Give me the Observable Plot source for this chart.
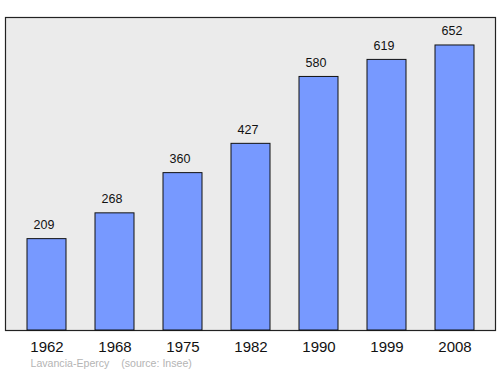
<!DOCTYPE html>
<html>
<head>
<meta charset="utf-8">
<script src="https://cdn.jsdelivr.net/npm/d3@7"></script>
<script src="https://cdn.jsdelivr.net/npm/@observablehq/plot@0.6"></script>
<style>
  html, body { margin: 0; padding: 0; background: #fff; }
  svg { display: block; }
</style>
</head>
<body>
<div id="chart"></div>
<script>
const years = ["1962", "1968", "1975", "1982", "1990", "1999", "2008"];
const population = [209, 268, 360, 427, 580, 619, 652];
const captionText = "Lavancia-Epercy    (source: Insee)";

const data = years.map((y, i) => ({year: y, value: population[i]}));

const chart = Plot.plot({
  width: 500,
  height: 374,
  marginLeft: 5,
  marginRight: 5,
  marginTop: 17,
  marginBottom: 44,
  style: {fontFamily: "'Liberation Sans', Arial, sans-serif", background: "#fff"},
  x: {domain: years, range: [26, 476], paddingInner: 0.42, paddingOuter: 0, label: null},
  y: {domain: [0, 716], axis: null},
  marks: [
    Plot.frame({fill: "#ebebeb", stroke: "#222", strokeWidth: 1.2}),
    Plot.barY(data, {x: "year", y: "value", fill: "#7799ff", stroke: "#111", strokeWidth: 1}),
    Plot.text(data, {x: "year", y: "value", text: d => String(d.value), dy: -14, dx: -3, fontSize: 12.5, fill: "#111"}),
    Plot.axisX({tickSize: 0, tickPadding: 11, fontSize: 15, color: "#111", label: null}),
    Plot.text([captionText], {frameAnchor: "bottom-left", dx: 25, dy: 36, fontSize: 10.6, fill: "#b4b4b4", textAnchor: "start", text: d => d})
  ]
});
document.getElementById("chart").appendChild(chart);
</script>
</body>
</html>
